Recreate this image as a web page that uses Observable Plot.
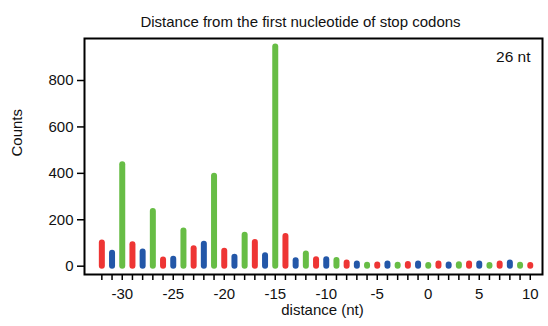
<!DOCTYPE html>
<html>
<head>
<meta charset="utf-8">
<script src="https://cdn.jsdelivr.net/npm/d3@7"></script>
<script src="https://cdn.jsdelivr.net/npm/@observablehq/plot@0.6"></script>
<style>
  html, body { margin: 0; padding: 0; background: #fff; }
</style>
</head>
<body>
<div id="chart"></div>
<script>
const distances = [-32,-31,-30,-29,-28,-27,-26,-25,-24,-23,-22,-21,-20,-19,-18,-17,-16,-15,-14,-13,-12,-11,-10,-9,-8,-7,-6,-5,-4,-3,-2,-1,0,1,2,3,4,5,6,7,8,9,10];
const counts = [100,56,437,92,61,236,27,30,152,75,95,387,64,39,133,102,45,944,128,23,52,28,28,24,14,9,4,5,9,4,7,9,3,9,5,6,9,9,3,9,14,4,3];
const frameColors = {"0": "#67bd45", "1": "#ee3534", "2": "#2357a8"};
const yTicks = [0, 200, 400, 600, 800];
const xLabelTicks = [-30, -25, -20, -15, -10, -5, 0, 5, 10];
const title = "Distance from the first nucleotide of stop codons";
const tag = "26 nt";
const yLabel = "Counts";
const xLabel = "distance (nt)";

const data = distances.map((d, i) => ({
  distance: d,
  count: counts[i],
  frame: String(((d % 3) + 3) % 3)
}));

const chart = Plot.plot({
  width: 548,
  height: 326,
  marginLeft: 84,
  marginRight: 6,
  marginTop: 38,
  marginBottom: 52,
  style: { fontFamily: "'Liberation Sans', Arial, sans-serif", fontSize: "14px", color: "#111", background: "#fff" },
  x: { domain: [-33.7, 11.2], axis: null },
  y: { domain: [-35.8, 981], axis: null },
  marks: [
    Plot.ruleX(data, { x: "distance", y1: 0, y2: "count", stroke: d => frameColors[d.frame], strokeWidth: 6, strokeLinecap: "round" }),
    Plot.frame({ stroke: "#000", strokeWidth: 2 }),
    Plot.axisY({ ticks: yTicks, tickSize: 7, tickPadding: 4, tickFormat: d => String(d), stroke: "#000", strokeWidth: 1.5, fontSize: 15, label: null }),
    Plot.axisX({ ticks: distances, tickSize: 6, tickFormat: () => "", stroke: "#000", strokeWidth: 1.5, label: null }),
    Plot.axisX({ ticks: xLabelTicks, tickSize: 0, tickPadding: 14, tickFormat: d => String(d), fontSize: 15, label: null }),
    Plot.text([title], { frameAnchor: "top", dy: -22, dx: -13, text: d => d, fontSize: 15 }),
    Plot.text([tag], { frameAnchor: "top-right", dx: -12, dy: 12, text: d => d, textAnchor: "end", fontSize: 15.5 }),
    Plot.text([yLabel], { frameAnchor: "left", dx: -67, rotate: -90, text: d => d, fontSize: 15 }),
    Plot.text([xLabel], { frameAnchor: "bottom", dx: 9, dy: 40, text: d => d, fontSize: 15 })
  ]
});
document.getElementById("chart").appendChild(chart);
</script>
</body>
</html>
